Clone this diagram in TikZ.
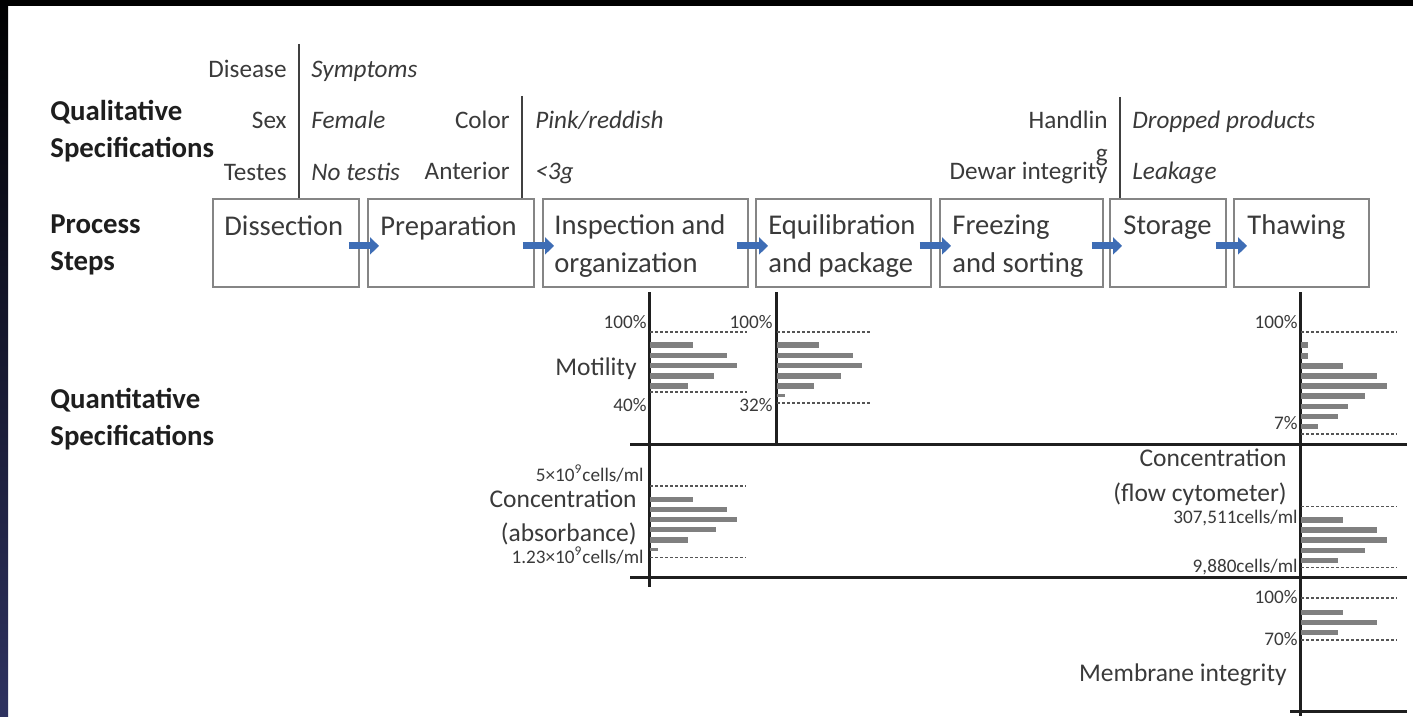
\documentclass[tikz,border=0pt]{standalone}
\usepackage{fontspec}
\setmainfont{Carlito}
\usetikzlibrary{arrows.meta,calc}
\definecolor{arrblue}{HTML}{3E6DB5}
\definecolor{boxgray}{HTML}{858585}
\definecolor{txt}{HTML}{3A3A3A}
\definecolor{head}{HTML}{1E1E1E}
\definecolor{barg}{HTML}{808080}
\definecolor{dashg}{HTML}{555555}
\definecolor{navy}{RGB}{46,50,96}
\begin{document}
\begin{tikzpicture}[x=0.5pt,y=-0.5pt,
 stepbox/.style={draw=boxgray, line width=0.9pt, anchor=north west, minimum height=44pt, inner sep=0pt},
 boxtxt/.style={anchor=base west, inner sep=0pt, text=txt, font=\fontsize{14.3pt}{19pt}\selectfont},
 headtxt/.style={anchor=base west, inner sep=0pt, text=head, font=\fontsize{14.4pt}{19pt}\selectfont\bfseries},
 qlab/.style={anchor=base east, inner sep=0pt, text=txt, font=\fontsize{12.6pt}{15pt}\selectfont},
 qval/.style={anchor=base west, inner sep=0pt, text=txt, font=\fontsize{12.6pt}{15pt}\selectfont\itshape},
 medlab/.style={anchor=base east, inner sep=0pt, text=txt, font=\fontsize{12.75pt}{15pt}\selectfont},
 smlab/.style={anchor=base east, inner sep=0pt, text=txt, font=\fontsize{9.6pt}{11pt}\selectfont},
 qline/.style={draw=black!75, line width=1.25pt},
 axisln/.style={draw=black!88, line width=1.5pt},
 dashln/.style={draw=dashg, line width=0.75pt, dash pattern=on 1.5pt off 1pt},
 bar/.style={fill=barg},
 flow/.style={draw=arrblue, line width=3.5pt, -{Triangle[length=4.5pt,width=8.5pt]}},
]
\useasboundingbox (0,0) rectangle (1413,717);
\fill[white] (0,0) rectangle (1413,717);
\fill[black] (0,0) rectangle (1413,6);
\shade[top color=black, bottom color=navy] (0,0) rectangle (8,717);

% headers
\node[headtxt] (hq1) at (50,120.7) {Qualitative};
\node[headtxt] (hq2) at (50,157) {Specifications};
\node[headtxt] (hp1) at (50,233) {Process};
\node[headtxt] (hp2) at (50,270.7) {Steps};
\node[headtxt] (hn1) at (50,408) {Quantitative};
\node[headtxt] (hn2) at (50,445.7) {Specifications};

% process boxes
\node[stepbox, minimum width=73pt] (dis) at (212,198) {};
\node[stepbox, minimum width=83pt] (prep) at (367,198) {};
\node[stepbox, minimum width=102.5pt] (insp) at (542,198) {};
\node[stepbox, minimum width=87.5pt] (equi) at (755,198) {};
\node[stepbox, minimum width=81.5pt] (frez) at (939,198) {};
\node[stepbox, minimum width=58pt] (stor) at (1109,198) {};
\node[stepbox, minimum width=67.5pt] (thaw) at (1233,198) {};

\node[boxtxt] (tdis) at ($(dis.north west)+(12,37)$) {Dissection};
\node[boxtxt] (tprep) at ($(prep.north west)+(13,37)$) {Preparation};
\node[boxtxt] (tinsp1) at ($(insp.north west)+(12,36.5)$) {Inspection and};
\node[boxtxt] (tinsp2) at ($(insp.north west)+(12,74)$) {organization};
\node[boxtxt] (tequi1) at ($(equi.north west)+(13,36.5)$) {Equilibration};
\node[boxtxt] (tequi2) at ($(equi.north west)+(13,74)$) {and package};
\node[boxtxt] (tfrez1) at ($(frez.north west)+(13,36.5)$) {Freezing};
\node[boxtxt] (tfrez2) at ($(frez.north west)+(13,74)$) {and sorting};
\node[boxtxt] (tstor) at ($(stor.north west)+(14,36.5)$) {Storage};
\node[boxtxt] (tthaw) at ($(thaw.north west)+(14,36.5)$) {Thawing};

% flow arrows
\draw[flow] ($(dis.east)+(-11,3)$) -- ($(prep.west)+(12,3)$);
\draw[flow] ($(prep.east)+(-12,3)$) -- ($(insp.west)+(12,3)$);
\draw[flow] ($(insp.east)+(-12,3)$) -- ($(equi.west)+(13,3)$);
\draw[flow] ($(equi.east)+(-12,3)$) -- ($(frez.west)+(12,3)$);
\draw[flow] ($(frez.east)+(-12,3)$) -- ($(stor.west)+(13,3)$);
\draw[flow] ($(stor.east)+(-11,3)$) -- ($(thaw.west)+(14,3)$);

% qualitative specifications
\coordinate (q1) at (299,44);
\coordinate (q2) at (522,96);
\coordinate (q3) at (1120,97);
\draw[qline] (q1) -- (q1 |- dis.north);
\draw[qline] (q2) -- (q2 |- prep.north);
\draw[qline] (q3) -- (q3 |- stor.north);

\node[qlab] (l1) at (287,77.3) {Disease};
\node[qlab] (l2) at (287,128.3) {Sex};
\node[qlab] (l3) at (287,180) {Testes};
\node[qval] (v1) at (311,77.3) {Symptoms};
\node[qval] (v2) at (311,128.3) {Female};
\node[qval] (v3) at (311,180) {No testis};
\node[qlab] (l4) at (510,128.3) {Color};
\node[qlab] (l5) at (510,179.3) {Anterior};
\node[qval] (v4) at (535,128.3) {Pink/reddish};
\node[qval] (v5) at (535,179.3) {<3g};
\node[qlab] (l6) at (1108,128.3) {Handlin};
\node[qlab] (l6g) at (1108,162) {g};
\node[qlab] (l7) at (1108,179.3) {Dewar integrity};
\node[qval] (v6) at (1132,128.3) {Dropped products};
\node[qval] (v7) at (1132,179.3) {Leakage};

% quantitative axes
\draw[axisln] (649,292) -- (649,587);
\draw[axisln] (776,292) -- (776,445);
\draw[axisln] (1300,292) -- (1300,716);
\draw[axisln] (630,444.5) -- (1407,444.5);
\draw[axisln] (630,577) -- (1407,577);
\draw[axisln] (1290,711) -- (1407,711);

% motility (inspection)
\draw[dashln] (650,332) -- (747,332);
\draw[dashln] (650,392) -- (747,392);
\foreach \y/\xe in {345/693,355.3/727,365.3/737,376/714,386/688}
  \fill[bar] (650,\y-2.6) rectangle (\xe,\y+2.6);
\node[smlab] (m100a) at (647,328) {100\%};
\node[smlab] (m40) at (647,411) {40\%};
\node[medlab] (mot) at (637,375) {Motility};

% motility (equilibration)
\draw[dashln] (777,332) -- (872,332);
\draw[dashln] (777,403) -- (872,403);
\foreach \y/\xe in {345/819,355.3/853,365.3/862,376/841,386/814}
  \fill[bar] (777,\y-2.6) rectangle (\xe,\y+2.6);
\fill[bar] (777,393.5) rectangle (785,397);
\node[smlab] (m100b) at (773,328) {100\%};
\node[smlab] (m32) at (773,411) {32\%};

% motility (thawing)
\draw[dashln] (1301,332) -- (1397,332);
\draw[dashln] (1301,434) -- (1397,434);
\foreach \y/\xe in {345/1308,356/1308,366/1343,376/1377,386/1387,396/1365,406.7/1348,416.7/1338,426.7/1318}
  \fill[bar] (1301,\y-2.6) rectangle (\xe,\y+2.6);
\node[smlab] (m100c) at (1298,328) {100\%};
\node[smlab] (m7) at (1298,429) {7\%};

% concentration (absorbance)
\draw[dashln] (650,486) -- (746,486);
\draw[dashln] (650,557.7) -- (746,557.7);
\foreach \y/\xe in {499.3/693,509.3/727,519.3/737,529.3/716,540/688}
  \fill[bar] (650,\y-2.6) rectangle (\xe,\y+2.6);
\fill[bar] (650,547.5) rectangle (658,551);
\node[smlab] (ca1) at (644,481) {5×10\textsuperscript{9}cells/ml};
\node[smlab] (ca2) at (644,563) {1.23×10\textsuperscript{9}cells/ml};
\node[medlab] (cat1) at (637,507) {Concentration};
\node[medlab] (cat2) at (637,541.7) {(absorbance)};

% concentration (flow cytometer)
\draw[dashln] (1301,506.7) -- (1397,506.7);
\draw[dashln] (1301,567.7) -- (1397,567.7);
\foreach \y/\xe in {520/1343,530/1377,540/1387,550.7/1365,560.7/1338}
  \fill[bar] (1301,\y-2.6) rectangle (\xe,\y+2.6);
\node[medlab] (cf1) at (1287,466) {Concentration};
\node[medlab] (cf2) at (1287,501.7) {(flow cytometer)};
\node[smlab] (cf3) at (1298,523.3) {307,511cells/ml};
\node[smlab] (cf4) at (1298,572.7) {9,880cells/ml};

% membrane integrity
\draw[dashln] (1301,598) -- (1397,598);
\draw[dashln] (1301,640) -- (1397,640);
\foreach \y/\xe in {612.3/1343,622.3/1377,632.3/1338}
  \fill[bar] (1301,\y-2.6) rectangle (\xe,\y+2.6);
\node[smlab] (mi1) at (1298,603.3) {100\%};
\node[smlab] (mi2) at (1298,645) {70\%};
\node[medlab] (mi3) at (1287,681.7) {Membrane integrity};
\end{tikzpicture}
\end{document}
